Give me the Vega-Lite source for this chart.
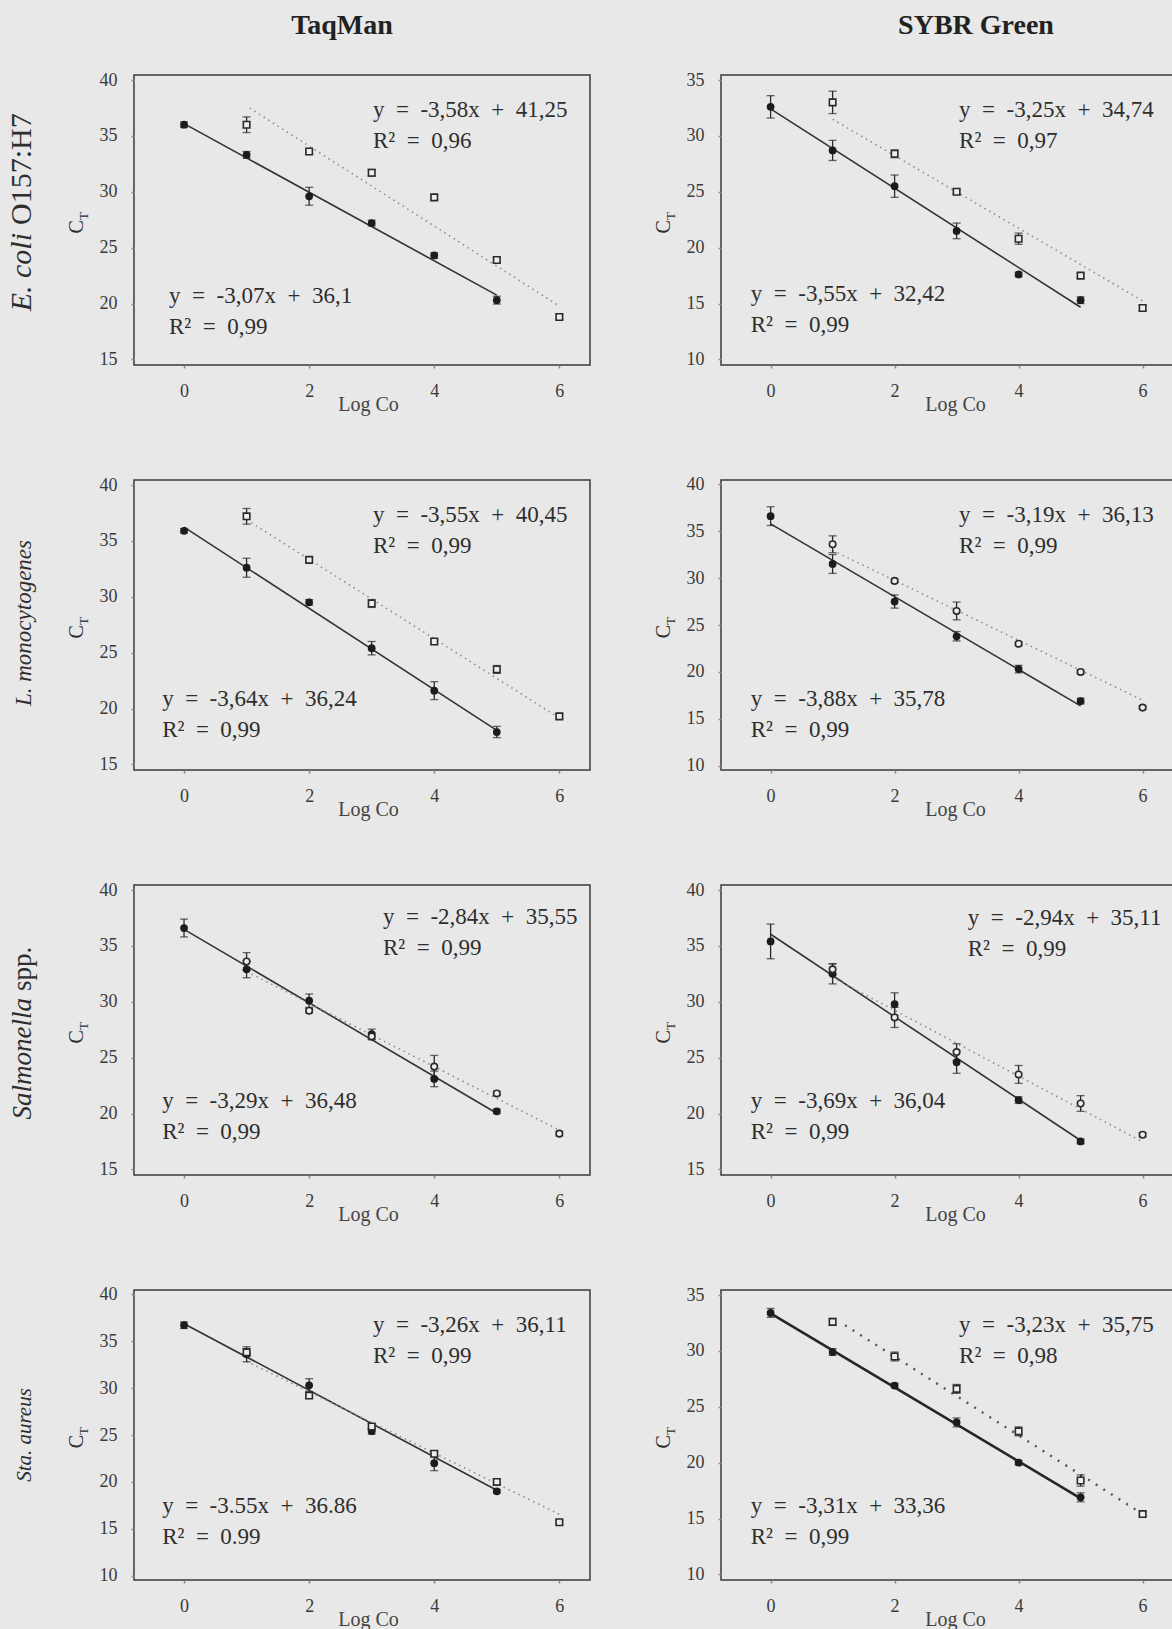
{
"$schema": "https://vega.github.io/schema/vega-lite/v6.json",
"background": "#e8e8e8",
"padding": {"left": 6, "top": 11, "right": 0, "bottom": 2},
"columns": 2,
"bounds": "flush",
"spacing": {"row": 115, "column": 131},
"config": {
  "view": {"stroke": "#3a3a3a", "strokeWidth": 1.5},
  "axis": {"domain": false, "grid": false, "format": "d", "tickSize": 3, "tickColor": "#888888", "tickWidth": 1.5, "labelFont": "Liberation Serif", "labelFontSize": 18, "labelColor": "#3a3a3a", "titleFont": "Liberation Serif", "titleFontSize": 20, "titleColor": "#444444", "titleFontWeight": "normal"},
  "axisX": {"labelPadding": 14, "titleX": 234, "titleY": 45, "titleBaseline": "alphabetic"},
  "axisY": {"labelPadding": 14},
  "text": {"font": "Liberation Serif", "color": "#2e2e2e"},
  "title": {"font": "Liberation Serif", "fontSize": 28, "fontWeight": "bold", "color": "#222222", "frame": "group", "anchor": "middle", "baseline": "alphabetic", "offset": 31}
},
"datasets": {
  "pts": [
    {"panel":"ec_t","series":"filled","logc":0,"ct":36.0,"lo":35.75,"hi":36.25},
    {"panel":"ec_t","series":"filled","logc":1,"ct":33.3,"lo":33.0,"hi":33.6},
    {"panel":"ec_t","series":"filled","logc":2,"ct":29.6,"lo":28.8,"hi":30.4},
    {"panel":"ec_t","series":"filled","logc":3,"ct":27.2,"lo":26.95,"hi":27.45},
    {"panel":"ec_t","series":"filled","logc":4,"ct":24.3,"lo":24.05,"hi":24.55},
    {"panel":"ec_t","series":"filled","logc":5,"ct":20.3,"lo":19.95,"hi":20.65},
    {"panel":"ec_t","series":"open","logc":1,"ct":36.0,"lo":35.3,"hi":36.7},
    {"panel":"ec_t","series":"open","logc":2,"ct":33.6,"lo":33.4,"hi":33.8},
    {"panel":"ec_t","series":"open","logc":3,"ct":31.7,"lo":31.4,"hi":32.0},
    {"panel":"ec_t","series":"open","logc":4,"ct":29.5,"lo":29.3,"hi":29.7},
    {"panel":"ec_t","series":"open","logc":5,"ct":23.9,"lo":23.65,"hi":24.15},
    {"panel":"ec_t","series":"open","logc":6,"ct":18.8,"lo":18.55,"hi":19.05},
    {"panel":"ec_s","series":"filled","logc":0,"ct":32.6,"lo":31.6,"hi":33.6},
    {"panel":"ec_s","series":"filled","logc":1,"ct":28.7,"lo":27.8,"hi":29.6},
    {"panel":"ec_s","series":"filled","logc":2,"ct":25.5,"lo":24.5,"hi":26.5},
    {"panel":"ec_s","series":"filled","logc":3,"ct":21.5,"lo":20.8,"hi":22.2},
    {"panel":"ec_s","series":"filled","logc":4,"ct":17.6,"lo":17.4,"hi":17.8},
    {"panel":"ec_s","series":"filled","logc":5,"ct":15.3,"lo":15.0,"hi":15.6},
    {"panel":"ec_s","series":"open","logc":1,"ct":33.0,"lo":32.0,"hi":34.0},
    {"panel":"ec_s","series":"open","logc":2,"ct":28.4,"lo":28.05,"hi":28.75},
    {"panel":"ec_s","series":"open","logc":3,"ct":25.0,"lo":24.8,"hi":25.2},
    {"panel":"ec_s","series":"open","logc":4,"ct":20.8,"lo":20.3,"hi":21.3},
    {"panel":"ec_s","series":"open","logc":5,"ct":17.5,"lo":17.3,"hi":17.7},
    {"panel":"ec_s","series":"open","logc":6,"ct":14.6,"lo":14.35,"hi":14.85},
    {"panel":"lm_t","series":"filled","logc":0,"ct":35.9,"lo":35.7,"hi":36.1},
    {"panel":"lm_t","series":"filled","logc":1,"ct":32.6,"lo":31.75,"hi":33.45},
    {"panel":"lm_t","series":"filled","logc":2,"ct":29.5,"lo":29.25,"hi":29.75},
    {"panel":"lm_t","series":"filled","logc":3,"ct":25.4,"lo":24.8,"hi":26.0},
    {"panel":"lm_t","series":"filled","logc":4,"ct":21.6,"lo":20.8,"hi":22.4},
    {"panel":"lm_t","series":"filled","logc":5,"ct":17.9,"lo":17.4,"hi":18.4},
    {"panel":"lm_t","series":"open","logc":1,"ct":37.2,"lo":36.5,"hi":37.9},
    {"panel":"lm_t","series":"open","logc":2,"ct":33.3,"lo":33.1,"hi":33.5},
    {"panel":"lm_t","series":"open","logc":3,"ct":29.4,"lo":29.05,"hi":29.75},
    {"panel":"lm_t","series":"open","logc":4,"ct":26.0,"lo":25.8,"hi":26.2},
    {"panel":"lm_t","series":"open","logc":5,"ct":23.5,"lo":23.15,"hi":23.85},
    {"panel":"lm_t","series":"open","logc":6,"ct":19.3,"lo":19.1,"hi":19.5},
    {"panel":"lm_s","series":"filled","logc":0,"ct":36.6,"lo":35.6,"hi":37.6},
    {"panel":"lm_s","series":"filled","logc":1,"ct":31.5,"lo":30.5,"hi":32.5},
    {"panel":"lm_s","series":"filled","logc":2,"ct":27.5,"lo":26.8,"hi":28.2},
    {"panel":"lm_s","series":"filled","logc":3,"ct":23.8,"lo":23.3,"hi":24.3},
    {"panel":"lm_s","series":"filled","logc":4,"ct":20.3,"lo":19.9,"hi":20.7},
    {"panel":"lm_s","series":"filled","logc":5,"ct":16.9,"lo":16.6,"hi":17.2},
    {"panel":"lm_s","series":"open","logc":1,"ct":33.6,"lo":32.7,"hi":34.5},
    {"panel":"lm_s","series":"open","logc":2,"ct":29.7,"lo":29.5,"hi":29.9},
    {"panel":"lm_s","series":"open","logc":3,"ct":26.5,"lo":25.55,"hi":27.45},
    {"panel":"lm_s","series":"open","logc":4,"ct":23.0,"lo":22.8,"hi":23.2},
    {"panel":"lm_s","series":"open","logc":5,"ct":20.0,"lo":19.8,"hi":20.2},
    {"panel":"lm_s","series":"open","logc":6,"ct":16.2,"lo":16.0,"hi":16.4},
    {"panel":"sa_t","series":"filled","logc":0,"ct":36.6,"lo":35.8,"hi":37.4},
    {"panel":"sa_t","series":"filled","logc":1,"ct":32.9,"lo":32.15,"hi":33.65},
    {"panel":"sa_t","series":"filled","logc":2,"ct":30.1,"lo":29.5,"hi":30.7},
    {"panel":"sa_t","series":"filled","logc":3,"ct":27.1,"lo":26.65,"hi":27.55},
    {"panel":"sa_t","series":"filled","logc":4,"ct":23.1,"lo":22.4,"hi":23.8},
    {"panel":"sa_t","series":"filled","logc":5,"ct":20.2,"lo":20.0,"hi":20.4},
    {"panel":"sa_t","series":"open","logc":1,"ct":33.6,"lo":32.8,"hi":34.4},
    {"panel":"sa_t","series":"open","logc":2,"ct":29.2,"lo":29.0,"hi":29.4},
    {"panel":"sa_t","series":"open","logc":3,"ct":26.9,"lo":26.6,"hi":27.2},
    {"panel":"sa_t","series":"open","logc":4,"ct":24.2,"lo":23.2,"hi":25.2},
    {"panel":"sa_t","series":"open","logc":5,"ct":21.8,"lo":21.6,"hi":22.0},
    {"panel":"sa_t","series":"open","logc":6,"ct":18.2,"lo":18.0,"hi":18.4},
    {"panel":"sa_s","series":"filled","logc":0,"ct":35.4,"lo":33.85,"hi":36.95},
    {"panel":"sa_s","series":"filled","logc":1,"ct":32.5,"lo":31.6,"hi":33.4},
    {"panel":"sa_s","series":"filled","logc":2,"ct":29.8,"lo":28.8,"hi":30.8},
    {"panel":"sa_s","series":"filled","logc":3,"ct":24.6,"lo":23.6,"hi":25.6},
    {"panel":"sa_s","series":"filled","logc":4,"ct":21.2,"lo":20.9,"hi":21.5},
    {"panel":"sa_s","series":"filled","logc":5,"ct":17.5,"lo":17.3,"hi":17.7},
    {"panel":"sa_s","series":"open","logc":1,"ct":32.9,"lo":32.4,"hi":33.4},
    {"panel":"sa_s","series":"open","logc":2,"ct":28.6,"lo":27.7,"hi":29.5},
    {"panel":"sa_s","series":"open","logc":3,"ct":25.5,"lo":24.75,"hi":26.25},
    {"panel":"sa_s","series":"open","logc":4,"ct":23.5,"lo":22.7,"hi":24.3},
    {"panel":"sa_s","series":"open","logc":5,"ct":20.9,"lo":20.2,"hi":21.6},
    {"panel":"sa_s","series":"open","logc":6,"ct":18.1,"lo":17.9,"hi":18.3},
    {"panel":"st_t","series":"filled","logc":0,"ct":36.7,"lo":36.35,"hi":37.05},
    {"panel":"st_t","series":"filled","logc":1,"ct":33.6,"lo":32.8,"hi":34.4},
    {"panel":"st_t","series":"filled","logc":2,"ct":30.3,"lo":29.6,"hi":31.0},
    {"panel":"st_t","series":"filled","logc":3,"ct":25.4,"lo":25.1,"hi":25.7},
    {"panel":"st_t","series":"filled","logc":4,"ct":22.0,"lo":21.2,"hi":22.8},
    {"panel":"st_t","series":"filled","logc":5,"ct":19.0,"lo":18.8,"hi":19.2},
    {"panel":"st_t","series":"open","logc":1,"ct":33.8,"lo":33.4,"hi":34.2},
    {"panel":"st_t","series":"open","logc":2,"ct":29.2,"lo":28.9,"hi":29.5},
    {"panel":"st_t","series":"open","logc":3,"ct":25.9,"lo":25.6,"hi":26.2},
    {"panel":"st_t","series":"open","logc":4,"ct":23.0,"lo":22.7,"hi":23.3},
    {"panel":"st_t","series":"open","logc":5,"ct":20.0,"lo":19.7,"hi":20.3},
    {"panel":"st_t","series":"open","logc":6,"ct":15.7,"lo":15.5,"hi":15.9},
    {"panel":"st_s","series":"filled","logc":0,"ct":33.4,"lo":33.0,"hi":33.8},
    {"panel":"st_s","series":"filled","logc":1,"ct":29.9,"lo":29.6,"hi":30.2},
    {"panel":"st_s","series":"filled","logc":2,"ct":26.9,"lo":26.7,"hi":27.1},
    {"panel":"st_s","series":"filled","logc":3,"ct":23.6,"lo":23.2,"hi":24.0},
    {"panel":"st_s","series":"filled","logc":4,"ct":20.0,"lo":19.8,"hi":20.2},
    {"panel":"st_s","series":"filled","logc":5,"ct":16.9,"lo":16.5,"hi":17.3},
    {"panel":"st_s","series":"open","logc":1,"ct":32.6,"lo":32.3,"hi":32.9},
    {"panel":"st_s","series":"open","logc":2,"ct":29.5,"lo":29.1,"hi":29.9},
    {"panel":"st_s","series":"open","logc":3,"ct":26.6,"lo":26.2,"hi":27.0},
    {"panel":"st_s","series":"open","logc":4,"ct":22.8,"lo":22.4,"hi":23.2},
    {"panel":"st_s","series":"open","logc":5,"ct":18.4,"lo":17.9,"hi":18.9},
    {"panel":"st_s","series":"open","logc":6,"ct":15.4,"lo":15.2,"hi":15.6}
  ],
  "lines": [
    {"panel":"ec_t","series":"filled","logc":0,"ct":36.1},{"panel":"ec_t","series":"filled","logc":5,"ct":20.75},
    {"panel":"ec_t","series":"open","logc":1.05,"ct":37.49},{"panel":"ec_t","series":"open","logc":6,"ct":19.77},
    {"panel":"ec_s","series":"filled","logc":0,"ct":32.42},{"panel":"ec_s","series":"filled","logc":5,"ct":14.67},
    {"panel":"ec_s","series":"open","logc":1,"ct":31.49},{"panel":"ec_s","series":"open","logc":6,"ct":15.24},
    {"panel":"lm_t","series":"filled","logc":0,"ct":36.24},{"panel":"lm_t","series":"filled","logc":5,"ct":18.04},
    {"panel":"lm_t","series":"open","logc":1,"ct":36.9},{"panel":"lm_t","series":"open","logc":6,"ct":19.15},
    {"panel":"lm_s","series":"filled","logc":0,"ct":35.78},{"panel":"lm_s","series":"filled","logc":5,"ct":16.38},
    {"panel":"lm_s","series":"open","logc":1,"ct":32.94},{"panel":"lm_s","series":"open","logc":6,"ct":16.99},
    {"panel":"sa_t","series":"filled","logc":0,"ct":36.48},{"panel":"sa_t","series":"filled","logc":5,"ct":20.03},
    {"panel":"sa_t","series":"open","logc":1,"ct":32.71},{"panel":"sa_t","series":"open","logc":6,"ct":18.51},
    {"panel":"sa_s","series":"filled","logc":0,"ct":36.04},{"panel":"sa_s","series":"filled","logc":5,"ct":17.59},
    {"panel":"sa_s","series":"open","logc":1,"ct":32.17},{"panel":"sa_s","series":"open","logc":6,"ct":17.47},
    {"panel":"st_t","series":"filled","logc":0,"ct":36.86},{"panel":"st_t","series":"filled","logc":5,"ct":19.11},
    {"panel":"st_t","series":"open","logc":1,"ct":32.85},{"panel":"st_t","series":"open","logc":6,"ct":16.55},
    {"panel":"st_s","series":"filled","logc":0,"ct":33.36},{"panel":"st_s","series":"filled","logc":5,"ct":16.81},
    {"panel":"st_s","series":"open","logc":1.2,"ct":32.3},{"panel":"st_s","series":"open","logc":6,"ct":15.4}
  ]
},
"concat": [
{
 "width": 456, "height": 290,
 "title": {"text": "TaqMan", "dx": -20},
 "layer": [
  {"data": {"name": "lines"}, "transform": [{"filter": "datum.panel === 'ec_t' && datum.series === 'filled'"}],
   "mark": {"type": "line", "color": "#333333", "strokeWidth": 1.6},
   "encoding": {"x": {"field": "logc", "type": "quantitative", "title": "Log Co", "scale": {"domain": [-0.8, 6.49], "nice": false, "zero": false}, "axis": {"values": [0,2,4,6]}},
                "y": {"field": "ct", "type": "quantitative", "title": null, "scale": {"domain": [14.5, 40.45], "nice": false, "zero": false}, "axis": {"values": [15,20,25,30,35,40]}}}},
  {"data": {"name": "lines"}, "transform": [{"filter": "datum.panel === 'ec_t' && datum.series === 'open'"}],
   "mark": {"type": "line", "color": "#8c8c8c", "strokeWidth": 1.6, "strokeDash": [1.5, 4]},
   "encoding": {"x": {"field": "logc", "type": "quantitative", "title": "Log Co"}, "y": {"field": "ct", "type": "quantitative", "title": null}}},
  {"data": {"name": "pts"}, "transform": [{"filter": "datum.panel === 'ec_t'"}],
   "mark": {"type": "errorbar", "ticks": {"size": 8}, "color": "#2a2a2a", "thickness": 1.3},
   "encoding": {"x": {"field": "logc", "type": "quantitative", "title": "Log Co"}, "y": {"field": "lo", "type": "quantitative", "title": null}, "y2": {"field": "hi"}}},
  {"data": {"name": "pts"}, "transform": [{"filter": "datum.panel === 'ec_t' && datum.series === 'filled'"}],
   "mark": {"type": "circle", "size": 60, "color": "#1c1c1c", "opacity": 1},
   "encoding": {"x": {"field": "logc", "type": "quantitative", "title": "Log Co"}, "y": {"field": "ct", "type": "quantitative", "title": null}}},
  {"data": {"name": "pts"}, "transform": [{"filter": "datum.panel === 'ec_t' && datum.series === 'open'"}],
   "mark": {"type": "point", "shape": "square", "filled": true, "fill": "#eeeeee", "stroke": "#2a2a2a", "strokeWidth": 1.6, "size": 42, "opacity": 1},
   "encoding": {"x": {"field": "logc", "type": "quantitative", "title": "Log Co"}, "y": {"field": "ct", "type": "quantitative", "title": null}}},
  {"data": {"values": [{}]}, "mark": {"type": "text", "align": "left", "baseline": "alphabetic", "fontSize": 23, "lineHeight": 31},
   "encoding": {"x": {"datum": 3.02, "type": "quantitative", "title": "Log Co"}, "y": {"datum": 36.69, "type": "quantitative", "title": null}, "text": {"value": ["y\u2002=\u2002-3,58x\u2002+\u200241,25", "R²\u2002=\u20020,96"]}}},
  {"data": {"values": [{}]}, "mark": {"type": "text", "align": "left", "baseline": "alphabetic", "fontSize": 23, "lineHeight": 31},
   "encoding": {"x": {"datum": -0.24, "type": "quantitative", "title": "Log Co"}, "y": {"datum": 20.05, "type": "quantitative", "title": null}, "text": {"value": ["y\u2002=\u2002-3,07x\u2002+\u200236,1", "R²\u2002=\u20020,99"]}}},
  {"data": {"values": [{}]}, "mark": {"type": "text", "angle": 270, "align": "right", "baseline": "alphabetic", "fontSize": 20},
   "encoding": {"x": {"datum": -1.615, "type": "quantitative", "title": "Log Co"}, "y": {"datum": 27.47, "type": "quantitative", "title": null}, "text": {"value": "C"}}},
  {"data": {"values": [{}]}, "mark": {"type": "text", "angle": 270, "align": "left", "baseline": "alphabetic", "fontSize": 13, "dy": 5},
   "encoding": {"x": {"datum": -1.615, "type": "quantitative", "title": "Log Co"}, "y": {"datum": 27.47, "type": "quantitative", "title": null}, "text": {"value": "T"}}},
  {"data": {"values": [{}]}, "mark": {"type": "text", "angle": 270, "align": "right", "baseline": "alphabetic", "fontSize": 30, "fontStyle": "italic"},
   "encoding": {"x": {"datum": -2.447, "type": "quantitative", "title": "Log Co"}, "y": {"datum": 26.31, "type": "quantitative", "title": null}, "text": {"value": "E. coli"}}},
  {"data": {"values": [{}]}, "mark": {"type": "text", "angle": 270, "align": "left", "baseline": "alphabetic", "fontSize": 30, "dx": 8},
   "encoding": {"x": {"datum": -2.447, "type": "quantitative", "title": "Log Co"}, "y": {"datum": 26.31, "type": "quantitative", "title": null}, "text": {"value": "O157:H7"}}}
 ]
},
{
 "width": 452, "height": 290,
 "title": {"text": "SYBR Green", "dx": 29},
 "layer": [
  {"data": {"name": "lines"}, "transform": [{"filter": "datum.panel === 'ec_s' && datum.series === 'filled'"}],
   "mark": {"type": "line", "color": "#333333", "strokeWidth": 1.6},
   "encoding": {"x": {"field": "logc", "type": "quantitative", "title": "Log Co", "scale": {"domain": [-0.8, 6.49], "nice": false, "zero": false}, "axis": {"values": [0,2,4,6]}},
                "y": {"field": "ct", "type": "quantitative", "title": null, "scale": {"domain": [9.5, 35.45], "nice": false, "zero": false}, "axis": {"values": [10,15,20,25,30,35]}}}},
  {"data": {"name": "lines"}, "transform": [{"filter": "datum.panel === 'ec_s' && datum.series === 'open'"}],
   "mark": {"type": "line", "color": "#8c8c8c", "strokeWidth": 1.6, "strokeDash": [1.5, 4]},
   "encoding": {"x": {"field": "logc", "type": "quantitative", "title": "Log Co"}, "y": {"field": "ct", "type": "quantitative", "title": null}}},
  {"data": {"name": "pts"}, "transform": [{"filter": "datum.panel === 'ec_s'"}],
   "mark": {"type": "errorbar", "ticks": {"size": 8}, "color": "#2a2a2a", "thickness": 1.3},
   "encoding": {"x": {"field": "logc", "type": "quantitative", "title": "Log Co"}, "y": {"field": "lo", "type": "quantitative", "title": null}, "y2": {"field": "hi"}}},
  {"data": {"name": "pts"}, "transform": [{"filter": "datum.panel === 'ec_s' && datum.series === 'filled'"}],
   "mark": {"type": "circle", "size": 60, "color": "#1c1c1c", "opacity": 1},
   "encoding": {"x": {"field": "logc", "type": "quantitative", "title": "Log Co"}, "y": {"field": "ct", "type": "quantitative", "title": null}}},
  {"data": {"name": "pts"}, "transform": [{"filter": "datum.panel === 'ec_s' && datum.series === 'open'"}],
   "mark": {"type": "point", "shape": "square", "filled": true, "fill": "#eeeeee", "stroke": "#2a2a2a", "strokeWidth": 1.6, "size": 42, "opacity": 1},
   "encoding": {"x": {"field": "logc", "type": "quantitative", "title": "Log Co"}, "y": {"field": "ct", "type": "quantitative", "title": null}}},
  {"data": {"values": [{}]}, "mark": {"type": "text", "align": "left", "baseline": "alphabetic", "fontSize": 23, "lineHeight": 31},
   "encoding": {"x": {"datum": 3.04, "type": "quantitative", "title": "Log Co"}, "y": {"datum": 31.69, "type": "quantitative", "title": null}, "text": {"value": ["y\u2002=\u2002-3,25x\u2002+\u200234,74", "R²\u2002=\u20020,97"]}}},
  {"data": {"values": [{}]}, "mark": {"type": "text", "align": "left", "baseline": "alphabetic", "fontSize": 23, "lineHeight": 31},
   "encoding": {"x": {"datum": -0.32, "type": "quantitative", "title": "Log Co"}, "y": {"datum": 15.23, "type": "quantitative", "title": null}, "text": {"value": ["y\u2002=\u2002-3,55x\u2002+\u200232,42", "R²\u2002=\u20020,99"]}}},
  {"data": {"values": [{}]}, "mark": {"type": "text", "angle": 270, "align": "right", "baseline": "alphabetic", "fontSize": 20},
   "encoding": {"x": {"datum": -1.623, "type": "quantitative", "title": "Log Co"}, "y": {"datum": 22.47, "type": "quantitative", "title": null}, "text": {"value": "C"}}},
  {"data": {"values": [{}]}, "mark": {"type": "text", "angle": 270, "align": "left", "baseline": "alphabetic", "fontSize": 13, "dy": 5},
   "encoding": {"x": {"datum": -1.623, "type": "quantitative", "title": "Log Co"}, "y": {"datum": 22.47, "type": "quantitative", "title": null}, "text": {"value": "T"}}}
 ]
},
{
 "width": 456, "height": 290,
 "layer": [
  {"data": {"name": "lines"}, "transform": [{"filter": "datum.panel === 'lm_t' && datum.series === 'filled'"}],
   "mark": {"type": "line", "color": "#333333", "strokeWidth": 1.6},
   "encoding": {"x": {"field": "logc", "type": "quantitative", "title": "Log Co", "scale": {"domain": [-0.8, 6.49], "nice": false, "zero": false}, "axis": {"values": [0,2,4,6]}},
                "y": {"field": "ct", "type": "quantitative", "title": null, "scale": {"domain": [14.5, 40.45], "nice": false, "zero": false}, "axis": {"values": [15,20,25,30,35,40]}}}},
  {"data": {"name": "lines"}, "transform": [{"filter": "datum.panel === 'lm_t' && datum.series === 'open'"}],
   "mark": {"type": "line", "color": "#8c8c8c", "strokeWidth": 1.6, "strokeDash": [1.5, 4]},
   "encoding": {"x": {"field": "logc", "type": "quantitative", "title": "Log Co"}, "y": {"field": "ct", "type": "quantitative", "title": null}}},
  {"data": {"name": "pts"}, "transform": [{"filter": "datum.panel === 'lm_t'"}],
   "mark": {"type": "errorbar", "ticks": {"size": 8}, "color": "#2a2a2a", "thickness": 1.3},
   "encoding": {"x": {"field": "logc", "type": "quantitative", "title": "Log Co"}, "y": {"field": "lo", "type": "quantitative", "title": null}, "y2": {"field": "hi"}}},
  {"data": {"name": "pts"}, "transform": [{"filter": "datum.panel === 'lm_t' && datum.series === 'filled'"}],
   "mark": {"type": "circle", "size": 60, "color": "#1c1c1c", "opacity": 1},
   "encoding": {"x": {"field": "logc", "type": "quantitative", "title": "Log Co"}, "y": {"field": "ct", "type": "quantitative", "title": null}}},
  {"data": {"name": "pts"}, "transform": [{"filter": "datum.panel === 'lm_t' && datum.series === 'open'"}],
   "mark": {"type": "point", "shape": "square", "filled": true, "fill": "#eeeeee", "stroke": "#2a2a2a", "strokeWidth": 1.6, "size": 42, "opacity": 1},
   "encoding": {"x": {"field": "logc", "type": "quantitative", "title": "Log Co"}, "y": {"field": "ct", "type": "quantitative", "title": null}}},
  {"data": {"values": [{}]}, "mark": {"type": "text", "align": "left", "baseline": "alphabetic", "fontSize": 23, "lineHeight": 31},
   "encoding": {"x": {"datum": 3.02, "type": "quantitative", "title": "Log Co"}, "y": {"datum": 36.69, "type": "quantitative", "title": null}, "text": {"value": ["y\u2002=\u2002-3,55x\u2002+\u200240,45", "R²\u2002=\u20020,99"]}}},
  {"data": {"values": [{}]}, "mark": {"type": "text", "align": "left", "baseline": "alphabetic", "fontSize": 23, "lineHeight": 31},
   "encoding": {"x": {"datum": -0.35, "type": "quantitative", "title": "Log Co"}, "y": {"datum": 20.23, "type": "quantitative", "title": null}, "text": {"value": ["y\u2002=\u2002-3,64x\u2002+\u200236,24", "R²\u2002=\u20020,99"]}}},
  {"data": {"values": [{}]}, "mark": {"type": "text", "angle": 270, "align": "right", "baseline": "alphabetic", "fontSize": 20},
   "encoding": {"x": {"datum": -1.615, "type": "quantitative", "title": "Log Co"}, "y": {"datum": 27.47, "type": "quantitative", "title": null}, "text": {"value": "C"}}},
  {"data": {"values": [{}]}, "mark": {"type": "text", "angle": 270, "align": "left", "baseline": "alphabetic", "fontSize": 13, "dy": 5},
   "encoding": {"x": {"datum": -1.615, "type": "quantitative", "title": "Log Co"}, "y": {"datum": 27.47, "type": "quantitative", "title": null}, "text": {"value": "T"}}},
  {"data": {"values": [{}]}, "mark": {"type": "text", "angle": 270, "align": "center", "baseline": "alphabetic", "fontSize": 23, "fontStyle": "italic"},
   "encoding": {"x": {"datum": -2.447, "type": "quantitative", "title": "Log Co"}, "y": {"datum": 27.65, "type": "quantitative", "title": null}, "text": {"value": "L. monocytogenes"}}}
 ]
},
{
 "width": 452, "height": 290,
 "layer": [
  {"data": {"name": "lines"}, "transform": [{"filter": "datum.panel === 'lm_s' && datum.series === 'filled'"}],
   "mark": {"type": "line", "color": "#333333", "strokeWidth": 1.6},
   "encoding": {"x": {"field": "logc", "type": "quantitative", "title": "Log Co", "scale": {"domain": [-0.8, 6.49], "nice": false, "zero": false}, "axis": {"values": [0,2,4,6]}},
                "y": {"field": "ct", "type": "quantitative", "title": null, "scale": {"domain": [9.55, 40.45], "nice": false, "zero": false}, "axis": {"values": [10,15,20,25,30,35,40]}}}},
  {"data": {"name": "lines"}, "transform": [{"filter": "datum.panel === 'lm_s' && datum.series === 'open'"}],
   "mark": {"type": "line", "color": "#8c8c8c", "strokeWidth": 1.6, "strokeDash": [1.5, 4]},
   "encoding": {"x": {"field": "logc", "type": "quantitative", "title": "Log Co"}, "y": {"field": "ct", "type": "quantitative", "title": null}}},
  {"data": {"name": "pts"}, "transform": [{"filter": "datum.panel === 'lm_s'"}],
   "mark": {"type": "errorbar", "ticks": {"size": 8}, "color": "#2a2a2a", "thickness": 1.3},
   "encoding": {"x": {"field": "logc", "type": "quantitative", "title": "Log Co"}, "y": {"field": "lo", "type": "quantitative", "title": null}, "y2": {"field": "hi"}}},
  {"data": {"name": "pts"}, "transform": [{"filter": "datum.panel === 'lm_s' && datum.series === 'filled'"}],
   "mark": {"type": "circle", "size": 60, "color": "#1c1c1c", "opacity": 1},
   "encoding": {"x": {"field": "logc", "type": "quantitative", "title": "Log Co"}, "y": {"field": "ct", "type": "quantitative", "title": null}}},
  {"data": {"name": "pts"}, "transform": [{"filter": "datum.panel === 'lm_s' && datum.series === 'open'"}],
   "mark": {"type": "point", "shape": "circle", "filled": true, "fill": "#eeeeee", "stroke": "#2a2a2a", "strokeWidth": 1.6, "size": 42, "opacity": 1},
   "encoding": {"x": {"field": "logc", "type": "quantitative", "title": "Log Co"}, "y": {"field": "ct", "type": "quantitative", "title": null}}},
  {"data": {"values": [{}]}, "mark": {"type": "text", "align": "left", "baseline": "alphabetic", "fontSize": 23, "lineHeight": 31},
   "encoding": {"x": {"datum": 3.04, "type": "quantitative", "title": "Log Co"}, "y": {"datum": 35.98, "type": "quantitative", "title": null}, "text": {"value": ["y\u2002=\u2002-3,19x\u2002+\u200236,13", "R²\u2002=\u20020,99"]}}},
  {"data": {"values": [{}]}, "mark": {"type": "text", "align": "left", "baseline": "alphabetic", "fontSize": 23, "lineHeight": 31},
   "encoding": {"x": {"datum": -0.32, "type": "quantitative", "title": "Log Co"}, "y": {"datum": 16.37, "type": "quantitative", "title": null}, "text": {"value": ["y\u2002=\u2002-3,88x\u2002+\u200235,78", "R²\u2002=\u20020,99"]}}},
  {"data": {"values": [{}]}, "mark": {"type": "text", "angle": 270, "align": "right", "baseline": "alphabetic", "fontSize": 20},
   "encoding": {"x": {"datum": -1.623, "type": "quantitative", "title": "Log Co"}, "y": {"datum": 25.0, "type": "quantitative", "title": null}, "text": {"value": "C"}}},
  {"data": {"values": [{}]}, "mark": {"type": "text", "angle": 270, "align": "left", "baseline": "alphabetic", "fontSize": 13, "dy": 5},
   "encoding": {"x": {"datum": -1.623, "type": "quantitative", "title": "Log Co"}, "y": {"datum": 25.0, "type": "quantitative", "title": null}, "text": {"value": "T"}}}
 ]
},
{
 "width": 456, "height": 290,
 "layer": [
  {"data": {"name": "lines"}, "transform": [{"filter": "datum.panel === 'sa_t' && datum.series === 'filled'"}],
   "mark": {"type": "line", "color": "#333333", "strokeWidth": 1.6},
   "encoding": {"x": {"field": "logc", "type": "quantitative", "title": "Log Co", "scale": {"domain": [-0.8, 6.49], "nice": false, "zero": false}, "axis": {"values": [0,2,4,6]}},
                "y": {"field": "ct", "type": "quantitative", "title": null, "scale": {"domain": [14.5, 40.45], "nice": false, "zero": false}, "axis": {"values": [15,20,25,30,35,40]}}}},
  {"data": {"name": "lines"}, "transform": [{"filter": "datum.panel === 'sa_t' && datum.series === 'open'"}],
   "mark": {"type": "line", "color": "#8c8c8c", "strokeWidth": 1.6, "strokeDash": [1.5, 4]},
   "encoding": {"x": {"field": "logc", "type": "quantitative", "title": "Log Co"}, "y": {"field": "ct", "type": "quantitative", "title": null}}},
  {"data": {"name": "pts"}, "transform": [{"filter": "datum.panel === 'sa_t'"}],
   "mark": {"type": "errorbar", "ticks": {"size": 8}, "color": "#2a2a2a", "thickness": 1.3},
   "encoding": {"x": {"field": "logc", "type": "quantitative", "title": "Log Co"}, "y": {"field": "lo", "type": "quantitative", "title": null}, "y2": {"field": "hi"}}},
  {"data": {"name": "pts"}, "transform": [{"filter": "datum.panel === 'sa_t' && datum.series === 'filled'"}],
   "mark": {"type": "circle", "size": 60, "color": "#1c1c1c", "opacity": 1},
   "encoding": {"x": {"field": "logc", "type": "quantitative", "title": "Log Co"}, "y": {"field": "ct", "type": "quantitative", "title": null}}},
  {"data": {"name": "pts"}, "transform": [{"filter": "datum.panel === 'sa_t' && datum.series === 'open'"}],
   "mark": {"type": "point", "shape": "circle", "filled": true, "fill": "#eeeeee", "stroke": "#2a2a2a", "strokeWidth": 1.6, "size": 42, "opacity": 1},
   "encoding": {"x": {"field": "logc", "type": "quantitative", "title": "Log Co"}, "y": {"field": "ct", "type": "quantitative", "title": null}}},
  {"data": {"values": [{}]}, "mark": {"type": "text", "align": "left", "baseline": "alphabetic", "fontSize": 23, "lineHeight": 31},
   "encoding": {"x": {"datum": 3.18, "type": "quantitative", "title": "Log Co"}, "y": {"datum": 36.96, "type": "quantitative", "title": null}, "text": {"value": ["y\u2002=\u2002-2,84x\u2002+\u200235,55", "R²\u2002=\u20020,99"]}}},
  {"data": {"values": [{}]}, "mark": {"type": "text", "align": "left", "baseline": "alphabetic", "fontSize": 23, "lineHeight": 31},
   "encoding": {"x": {"datum": -0.35, "type": "quantitative", "title": "Log Co"}, "y": {"datum": 20.49, "type": "quantitative", "title": null}, "text": {"value": ["y\u2002=\u2002-3,29x\u2002+\u200236,48", "R²\u2002=\u20020,99"]}}},
  {"data": {"values": [{}]}, "mark": {"type": "text", "angle": 270, "align": "right", "baseline": "alphabetic", "fontSize": 20},
   "encoding": {"x": {"datum": -1.615, "type": "quantitative", "title": "Log Co"}, "y": {"datum": 27.47, "type": "quantitative", "title": null}, "text": {"value": "C"}}},
  {"data": {"values": [{}]}, "mark": {"type": "text", "angle": 270, "align": "left", "baseline": "alphabetic", "fontSize": 13, "dy": 5},
   "encoding": {"x": {"datum": -1.615, "type": "quantitative", "title": "Log Co"}, "y": {"datum": 27.47, "type": "quantitative", "title": null}, "text": {"value": "T"}}},
  {"data": {"values": [{}]}, "mark": {"type": "text", "angle": 270, "align": "right", "baseline": "alphabetic", "fontSize": 27, "fontStyle": "italic"},
   "encoding": {"x": {"datum": -2.447, "type": "quantitative", "title": "Log Co"}, "y": {"datum": 30.34, "type": "quantitative", "title": null}, "text": {"value": "Salmonella"}}},
  {"data": {"values": [{}]}, "mark": {"type": "text", "angle": 270, "align": "left", "baseline": "alphabetic", "fontSize": 27, "dx": 7},
   "encoding": {"x": {"datum": -2.447, "type": "quantitative", "title": "Log Co"}, "y": {"datum": 30.34, "type": "quantitative", "title": null}, "text": {"value": "spp."}}}
 ]
},
{
 "width": 452, "height": 290,
 "layer": [
  {"data": {"name": "lines"}, "transform": [{"filter": "datum.panel === 'sa_s' && datum.series === 'filled'"}],
   "mark": {"type": "line", "color": "#333333", "strokeWidth": 1.6},
   "encoding": {"x": {"field": "logc", "type": "quantitative", "title": "Log Co", "scale": {"domain": [-0.8, 6.49], "nice": false, "zero": false}, "axis": {"values": [0,2,4,6]}},
                "y": {"field": "ct", "type": "quantitative", "title": null, "scale": {"domain": [14.5, 40.45], "nice": false, "zero": false}, "axis": {"values": [15,20,25,30,35,40]}}}},
  {"data": {"name": "lines"}, "transform": [{"filter": "datum.panel === 'sa_s' && datum.series === 'open'"}],
   "mark": {"type": "line", "color": "#8c8c8c", "strokeWidth": 1.6, "strokeDash": [1.5, 4]},
   "encoding": {"x": {"field": "logc", "type": "quantitative", "title": "Log Co"}, "y": {"field": "ct", "type": "quantitative", "title": null}}},
  {"data": {"name": "pts"}, "transform": [{"filter": "datum.panel === 'sa_s'"}],
   "mark": {"type": "errorbar", "ticks": {"size": 8}, "color": "#2a2a2a", "thickness": 1.3},
   "encoding": {"x": {"field": "logc", "type": "quantitative", "title": "Log Co"}, "y": {"field": "lo", "type": "quantitative", "title": null}, "y2": {"field": "hi"}}},
  {"data": {"name": "pts"}, "transform": [{"filter": "datum.panel === 'sa_s' && datum.series === 'filled'"}],
   "mark": {"type": "circle", "size": 60, "color": "#1c1c1c", "opacity": 1},
   "encoding": {"x": {"field": "logc", "type": "quantitative", "title": "Log Co"}, "y": {"field": "ct", "type": "quantitative", "title": null}}},
  {"data": {"name": "pts"}, "transform": [{"filter": "datum.panel === 'sa_s' && datum.series === 'open'"}],
   "mark": {"type": "point", "shape": "circle", "filled": true, "fill": "#eeeeee", "stroke": "#2a2a2a", "strokeWidth": 1.6, "size": 42, "opacity": 1},
   "encoding": {"x": {"field": "logc", "type": "quantitative", "title": "Log Co"}, "y": {"field": "ct", "type": "quantitative", "title": null}}},
  {"data": {"values": [{}]}, "mark": {"type": "text", "align": "left", "baseline": "alphabetic", "fontSize": 23, "lineHeight": 31},
   "encoding": {"x": {"datum": 3.18, "type": "quantitative", "title": "Log Co"}, "y": {"datum": 36.87, "type": "quantitative", "title": null}, "text": {"value": ["y\u2002=\u2002-2,94x\u2002+\u200235,11", "R²\u2002=\u20020,99"]}}},
  {"data": {"values": [{}]}, "mark": {"type": "text", "align": "left", "baseline": "alphabetic", "fontSize": 23, "lineHeight": 31},
   "encoding": {"x": {"datum": -0.32, "type": "quantitative", "title": "Log Co"}, "y": {"datum": 20.49, "type": "quantitative", "title": null}, "text": {"value": ["y\u2002=\u2002-3,69x\u2002+\u200236,04", "R²\u2002=\u20020,99"]}}},
  {"data": {"values": [{}]}, "mark": {"type": "text", "angle": 270, "align": "right", "baseline": "alphabetic", "fontSize": 20},
   "encoding": {"x": {"datum": -1.623, "type": "quantitative", "title": "Log Co"}, "y": {"datum": 27.47, "type": "quantitative", "title": null}, "text": {"value": "C"}}},
  {"data": {"values": [{}]}, "mark": {"type": "text", "angle": 270, "align": "left", "baseline": "alphabetic", "fontSize": 13, "dy": 5},
   "encoding": {"x": {"datum": -1.623, "type": "quantitative", "title": "Log Co"}, "y": {"datum": 27.47, "type": "quantitative", "title": null}, "text": {"value": "T"}}}
 ]
},
{
 "width": 456, "height": 290,
 "layer": [
  {"data": {"name": "lines"}, "transform": [{"filter": "datum.panel === 'st_t' && datum.series === 'filled'"}],
   "mark": {"type": "line", "color": "#333333", "strokeWidth": 1.6},
   "encoding": {"x": {"field": "logc", "type": "quantitative", "title": "Log Co", "scale": {"domain": [-0.8, 6.49], "nice": false, "zero": false}, "axis": {"values": [0,2,4,6]}},
                "y": {"field": "ct", "type": "quantitative", "title": null, "scale": {"domain": [9.55, 40.45], "nice": false, "zero": false}, "axis": {"values": [10,15,20,25,30,35,40]}}}},
  {"data": {"name": "lines"}, "transform": [{"filter": "datum.panel === 'st_t' && datum.series === 'open'"}],
   "mark": {"type": "line", "color": "#8c8c8c", "strokeWidth": 1.6, "strokeDash": [1.5, 4]},
   "encoding": {"x": {"field": "logc", "type": "quantitative", "title": "Log Co"}, "y": {"field": "ct", "type": "quantitative", "title": null}}},
  {"data": {"name": "pts"}, "transform": [{"filter": "datum.panel === 'st_t'"}],
   "mark": {"type": "errorbar", "ticks": {"size": 8}, "color": "#2a2a2a", "thickness": 1.3},
   "encoding": {"x": {"field": "logc", "type": "quantitative", "title": "Log Co"}, "y": {"field": "lo", "type": "quantitative", "title": null}, "y2": {"field": "hi"}}},
  {"data": {"name": "pts"}, "transform": [{"filter": "datum.panel === 'st_t' && datum.series === 'filled'"}],
   "mark": {"type": "circle", "size": 60, "color": "#1c1c1c", "opacity": 1},
   "encoding": {"x": {"field": "logc", "type": "quantitative", "title": "Log Co"}, "y": {"field": "ct", "type": "quantitative", "title": null}}},
  {"data": {"name": "pts"}, "transform": [{"filter": "datum.panel === 'st_t' && datum.series === 'open'"}],
   "mark": {"type": "point", "shape": "square", "filled": true, "fill": "#eeeeee", "stroke": "#2a2a2a", "strokeWidth": 1.6, "size": 42, "opacity": 1},
   "encoding": {"x": {"field": "logc", "type": "quantitative", "title": "Log Co"}, "y": {"field": "ct", "type": "quantitative", "title": null}}},
  {"data": {"values": [{}]}, "mark": {"type": "text", "align": "left", "baseline": "alphabetic", "fontSize": 23, "lineHeight": 31},
   "encoding": {"x": {"datum": 3.02, "type": "quantitative", "title": "Log Co"}, "y": {"datum": 35.98, "type": "quantitative", "title": null}, "text": {"value": ["y\u2002=\u2002-3,26x\u2002+\u200236,11", "R²\u2002=\u20020,99"]}}},
  {"data": {"values": [{}]}, "mark": {"type": "text", "align": "left", "baseline": "alphabetic", "fontSize": 23, "lineHeight": 31},
   "encoding": {"x": {"datum": -0.35, "type": "quantitative", "title": "Log Co"}, "y": {"datum": 16.69, "type": "quantitative", "title": null}, "text": {"value": ["y\u2002=\u2002-3.55x\u2002+\u200236.86", "R²\u2002=\u20020.99"]}}},
  {"data": {"values": [{}]}, "mark": {"type": "text", "angle": 270, "align": "right", "baseline": "alphabetic", "fontSize": 20},
   "encoding": {"x": {"datum": -1.615, "type": "quantitative", "title": "Log Co"}, "y": {"datum": 25.0, "type": "quantitative", "title": null}, "text": {"value": "C"}}},
  {"data": {"values": [{}]}, "mark": {"type": "text", "angle": 270, "align": "left", "baseline": "alphabetic", "fontSize": 13, "dy": 5},
   "encoding": {"x": {"datum": -1.615, "type": "quantitative", "title": "Log Co"}, "y": {"datum": 25.0, "type": "quantitative", "title": null}, "text": {"value": "T"}}},
  {"data": {"values": [{}]}, "mark": {"type": "text", "angle": 270, "align": "center", "baseline": "alphabetic", "fontSize": 21, "fontStyle": "italic"},
   "encoding": {"x": {"datum": -2.447, "type": "quantitative", "title": "Log Co"}, "y": {"datum": 25.0, "type": "quantitative", "title": null}, "text": {"value": "Sta. aureus"}}}
 ]
},
{
 "width": 452, "height": 290,
 "layer": [
  {"data": {"name": "lines"}, "transform": [{"filter": "datum.panel === 'st_s' && datum.series === 'filled'"}],
   "mark": {"type": "line", "color": "#262626", "strokeWidth": 2.6},
   "encoding": {"x": {"field": "logc", "type": "quantitative", "title": "Log Co", "scale": {"domain": [-0.8, 6.49], "nice": false, "zero": false}, "axis": {"values": [0,2,4,6]}},
                "y": {"field": "ct", "type": "quantitative", "title": null, "scale": {"domain": [9.5, 35.45], "nice": false, "zero": false}, "axis": {"values": [10,15,20,25,30,35]}}}},
  {"data": {"name": "lines"}, "transform": [{"filter": "datum.panel === 'st_s' && datum.series === 'open'"}],
   "mark": {"type": "line", "color": "#555555", "strokeWidth": 2.4, "strokeDash": [2, 7]},
   "encoding": {"x": {"field": "logc", "type": "quantitative", "title": "Log Co"}, "y": {"field": "ct", "type": "quantitative", "title": null}}},
  {"data": {"name": "pts"}, "transform": [{"filter": "datum.panel === 'st_s'"}],
   "mark": {"type": "errorbar", "ticks": {"size": 8}, "color": "#2a2a2a", "thickness": 1.3},
   "encoding": {"x": {"field": "logc", "type": "quantitative", "title": "Log Co"}, "y": {"field": "lo", "type": "quantitative", "title": null}, "y2": {"field": "hi"}}},
  {"data": {"name": "pts"}, "transform": [{"filter": "datum.panel === 'st_s' && datum.series === 'filled'"}],
   "mark": {"type": "circle", "size": 60, "color": "#1c1c1c", "opacity": 1},
   "encoding": {"x": {"field": "logc", "type": "quantitative", "title": "Log Co"}, "y": {"field": "ct", "type": "quantitative", "title": null}}},
  {"data": {"name": "pts"}, "transform": [{"filter": "datum.panel === 'st_s' && datum.series === 'open'"}],
   "mark": {"type": "point", "shape": "square", "filled": true, "fill": "#eeeeee", "stroke": "#2a2a2a", "strokeWidth": 1.6, "size": 42, "opacity": 1},
   "encoding": {"x": {"field": "logc", "type": "quantitative", "title": "Log Co"}, "y": {"field": "ct", "type": "quantitative", "title": null}}},
  {"data": {"values": [{}]}, "mark": {"type": "text", "align": "left", "baseline": "alphabetic", "fontSize": 23, "lineHeight": 31},
   "encoding": {"x": {"datum": 3.04, "type": "quantitative", "title": "Log Co"}, "y": {"datum": 31.69, "type": "quantitative", "title": null}, "text": {"value": ["y\u2002=\u2002-3,23x\u2002+\u200235,75", "R²\u2002=\u20020,98"]}}},
  {"data": {"values": [{}]}, "mark": {"type": "text", "align": "left", "baseline": "alphabetic", "fontSize": 23, "lineHeight": 31},
   "encoding": {"x": {"datum": -0.32, "type": "quantitative", "title": "Log Co"}, "y": {"datum": 15.49, "type": "quantitative", "title": null}, "text": {"value": ["y\u2002=\u2002-3,31x\u2002+\u200233,36", "R²\u2002=\u20020,99"]}}},
  {"data": {"values": [{}]}, "mark": {"type": "text", "angle": 270, "align": "right", "baseline": "alphabetic", "fontSize": 20},
   "encoding": {"x": {"datum": -1.623, "type": "quantitative", "title": "Log Co"}, "y": {"datum": 22.47, "type": "quantitative", "title": null}, "text": {"value": "C"}}},
  {"data": {"values": [{}]}, "mark": {"type": "text", "angle": 270, "align": "left", "baseline": "alphabetic", "fontSize": 13, "dy": 5},
   "encoding": {"x": {"datum": -1.623, "type": "quantitative", "title": "Log Co"}, "y": {"datum": 22.47, "type": "quantitative", "title": null}, "text": {"value": "T"}}}
 ]
}
]
}
